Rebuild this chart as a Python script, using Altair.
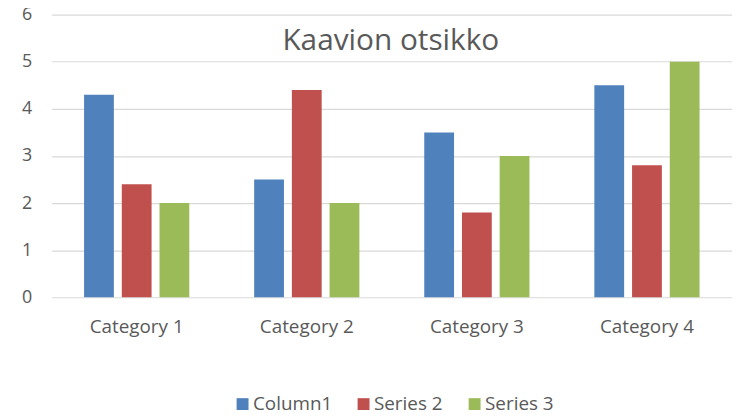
import altair as alt
import pandas as pd

categories = ["Category 1", "Category 2", "Category 3", "Category 4"]
series_names = ["Column1", "Series 2", "Series 3"]
column1 = [4.3, 2.5, 3.5, 4.5]
series2 = [2.4, 4.4, 1.8, 2.8]
series3 = [2.0, 2.0, 3.0, 5.0]
colors = ["#4F81BD", "#C0504D", "#9BBB59"]
y_ticks = [0, 1, 2, 3, 4, 5, 6]

rows = []
for name, vals in zip(series_names, [column1, series2, series3]):
    for c, v in zip(categories, vals):
        rows.append({"category": c, "series": name, "value": v})
df = pd.DataFrame(rows)

FONT = "Open Sans"
TXT = "#595959"

chart = alt.Chart(df).mark_bar().encode(
    x=alt.X("category:N", sort=categories,
            scale=alt.Scale(paddingInner=0, paddingOuter=0),
            axis=alt.Axis(title=None, labelAngle=0, domain=False, ticks=False, tickSize=0,
                          labelPadding=21, labelFontSize=19, labelColor=TXT, labelFont=FONT,
                          grid=False)),
    xOffset=alt.XOffset("series:N", sort=series_names,
                        scale=alt.Scale(paddingInner=0.21, paddingOuter=0.86)),
    y=alt.Y("value:Q", scale=alt.Scale(domain=[0, 6], nice=False),
            axis=alt.Axis(title=None, values=y_ticks, domain=False, ticks=False, tickSize=0,
                          labelPadding=20, labelFontSize=18, labelColor=TXT, labelFont=FONT,
                          gridColor="#D9D9D9", gridWidth=1.2)),
    color=alt.Color("series:N", sort=series_names,
                    scale=alt.Scale(domain=series_names, range=colors),
                    legend=alt.Legend(title=None, orient="none", legendX=183, legendY=383,
                                      direction="horizontal", symbolType="square",
                                      symbolSize=144, symbolStrokeWidth=0,
                                      labelFontSize=19, labelColor=TXT, labelFont=FONT,
                                      columnPadding=22, labelOffset=1)),
).properties(
    width=686,
    height=285,
    title=alt.TitleParams("Kaavion otsikko", anchor="middle", fontSize=30, font=FONT,
                          fontWeight="normal", color=TXT, baseline="alphabetic",
                          offset=-75, dx=-1),
    autosize="none",
    padding={"left": 44, "top": 5, "right": 0, "bottom": 112},
).configure_view(strokeWidth=0)

chart.save("out.html", embed_options={"renderer": "svg", "actions": False})
